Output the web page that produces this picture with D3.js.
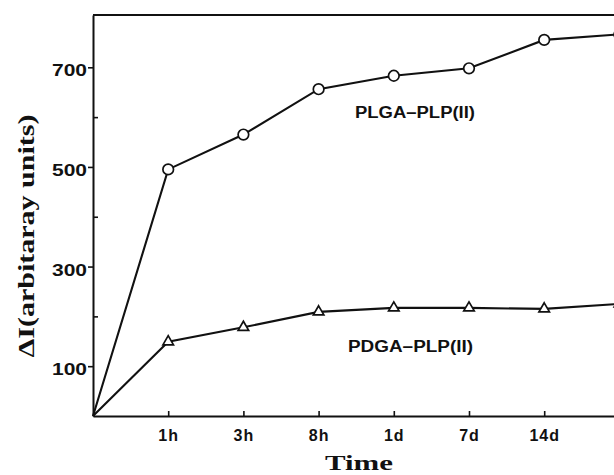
<!DOCTYPE html>
<html>
<head>
<meta charset="utf-8">
<script src="https://cdn.jsdelivr.net/npm/d3@7"></script>
<style>
  html, body { margin: 0; padding: 0; background: #fff; }
  svg { display: block; }
</style>
</head>
<body>
<svg id="chart" width="614" height="475"></svg>
<script>
// Time points (index 0 = start; the last point lies just past the right edge)
const steps = [0, 1, 2, 3, 4, 5, 6, 7];
const tickSteps = [1, 2, 3, 4, 5, 6];
const tickLabels = ["1h", "3h", "8h", "1d", "7d", "14d"];

// ΔI values for each formulation
const plgaValues = [0, 495, 565, 656, 683, 698, 755, 766];
const pdgaValues = [0, 149, 178, 209, 217, 217, 215, 225];

const yMajorTicks = [100, 300, 500, 700];
const yMinorTicks = [200, 400, 600];

const seriesNames = ["PLGA–PLP(II)", "PDGA–PLP(II)"];

const svg = d3.select("#chart");
const ink = "#111";
const sans = "'Liberation Sans', Arial, sans-serif";
const serif = "'Liberation Serif', 'Times New Roman', serif";

const plotLeft = 93, plotTop = 15, plotBottom = 416;

const x = d3.scaleLinear().domain([0, 7]).range([plotLeft, plotLeft + 7 * 75.2]);
const y = d3.scaleLinear().domain([0, 805]).range([plotBottom, plotTop]);

// frame: top border
svg.append("line")
  .attr("x1", plotLeft).attr("x2", 614)
  .attr("y1", plotTop).attr("y2", plotTop)
  .attr("stroke", ink).attr("stroke-width", 2);

// y axis with major ticks outside and minor ticks inside
const yAxis = svg.append("g")
  .attr("transform", `translate(${plotLeft},0)`)
  .call(d3.axisLeft(y).tickValues(yMajorTicks).tickSize(5).tickPadding(1).tickSizeOuter(0));
yAxis.select(".domain").attr("stroke", ink).attr("stroke-width", 2);
yAxis.selectAll(".tick line").attr("stroke", ink).attr("stroke-width", 1.6);
yAxis.selectAll(".tick text")
  .attr("font-family", sans).attr("font-weight", "bold").attr("font-size", 16)
  .attr("fill", ink).attr("dy", "0.53em")
  .attr("textLength", 35).attr("lengthAdjust", "spacingAndGlyphs");

const yMinor = svg.append("g")
  .attr("transform", `translate(${plotLeft},0)`)
  .call(d3.axisRight(y).tickValues(yMinorTicks).tickSize(5).tickFormat("").tickSizeOuter(0));
yMinor.select(".domain").remove();
yMinor.selectAll(".tick line").attr("stroke", ink).attr("stroke-width", 1.6);

// x axis with small inward ticks
const xAxis = svg.append("g")
  .attr("transform", `translate(0,${plotBottom})`)
  .call(d3.axisBottom(x).tickValues(tickSteps)
    .tickFormat((d, i) => tickLabels[i])
    .tickSizeInner(-5).tickSizeOuter(0));
xAxis.select(".domain").attr("stroke", ink).attr("stroke-width", 2);
xAxis.selectAll(".tick line").attr("stroke", ink).attr("stroke-width", 1.6);
xAxis.selectAll(".tick text")
  .attr("font-family", sans).attr("font-weight", "bold").attr("font-size", 16)
  .attr("fill", ink).attr("dy", null).attr("y", 25)
  .attr("letter-spacing", 1);

// axis titles
svg.append("text")
  .attr("transform", "translate(34,236) rotate(-90)")
  .attr("text-anchor", "middle")
  .attr("font-family", serif).attr("font-weight", "bold").attr("font-size", 24)
  .attr("fill", ink)
  .attr("textLength", 243).attr("lengthAdjust", "spacingAndGlyphs")
  .text("ΔI(arbitaray units)");

svg.append("text")
  .attr("x", 359).attr("y", 470)
  .attr("text-anchor", "middle")
  .attr("font-family", serif).attr("font-weight", "bold").attr("font-size", 22)
  .attr("fill", ink)
  .attr("textLength", 68).attr("lengthAdjust", "spacingAndGlyphs")
  .text("Time");

// series lines
const line = d3.line().x((d, i) => x(steps[i])).y(d => y(d));

[plgaValues, pdgaValues].forEach(vals => {
  svg.append("path")
    .datum(vals)
    .attr("d", line)
    .attr("fill", "none")
    .attr("stroke", ink)
    .attr("stroke-width", 2.1);
});

// circle markers (skip the origin)
svg.append("g").selectAll("circle")
  .data(plgaValues.map((v, i) => ({ v, i })).filter(d => d.i > 0))
  .join("circle")
  .attr("cx", d => x(steps[d.i]))
  .attr("cy", d => y(d.v))
  .attr("r", 5.3)
  .attr("fill", "#fff")
  .attr("stroke", ink)
  .attr("stroke-width", 1.7);

// triangle markers
const tri = d3.symbol().type(d3.symbolTriangle).size(48);
svg.append("g").selectAll("path")
  .data(pdgaValues.map((v, i) => ({ v, i })).filter(d => d.i > 0))
  .join("path")
  .attr("d", tri)
  .attr("transform", d => `translate(${x(steps[d.i])},${y(d.v)})`)
  .attr("fill", "#fff")
  .attr("stroke", ink)
  .attr("stroke-width", 1.7);

// series labels
svg.append("text")
  .attr("x", 355).attr("y", 118)
  .attr("font-family", sans).attr("font-weight", "bold").attr("font-size", 16)
  .attr("fill", ink)
  .attr("textLength", 120).attr("lengthAdjust", "spacingAndGlyphs")
  .text(seriesNames[0]);

svg.append("text")
  .attr("x", 348).attr("y", 351.5)
  .attr("font-family", sans).attr("font-weight", "bold").attr("font-size", 16)
  .attr("fill", ink)
  .attr("textLength", 125).attr("lengthAdjust", "spacingAndGlyphs")
  .text(seriesNames[1]);
</script>
</body>
</html>
